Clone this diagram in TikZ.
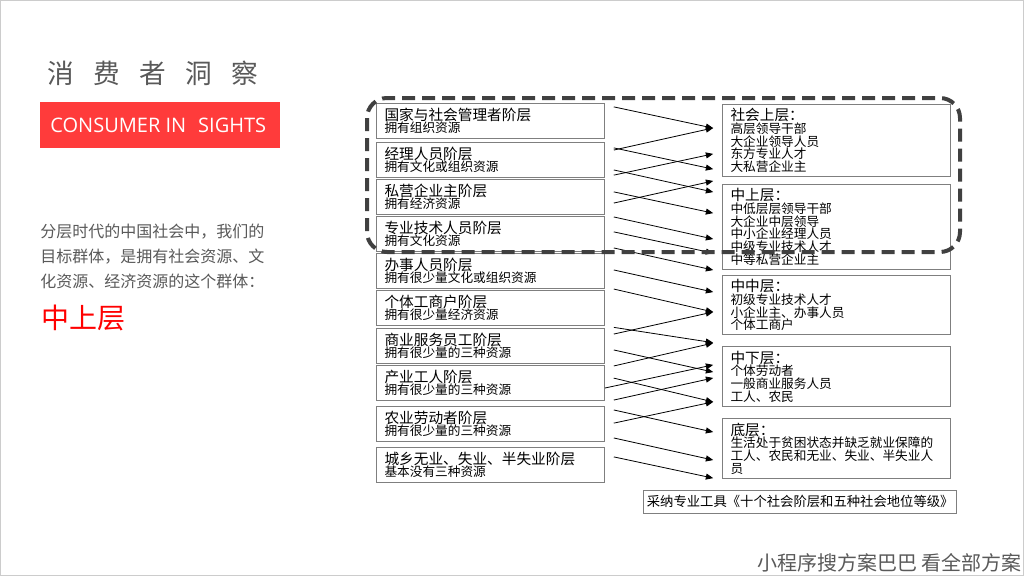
\documentclass[tikz,border=0pt]{standalone}
\usepackage{fontspec}
\setmainfont{Noto Sans CJK SC}
\newfontfamily\latinfont{Open Sans}
\usepackage{tikz}
\usetikzlibrary{arrows.meta, positioning}
\definecolor{headred}{HTML}{FF3B3B}
\definecolor{pickred}{HTML}{FF0000}
\definecolor{textgray}{HTML}{595959}
\definecolor{boxgray}{HTML}{7F7F7F}
\definecolor{dashgray}{HTML}{404040}
\setlength{\lineskiplimit}{-10pt}
\newcommand{\lvl}[1]{{\fontsize{11}{9.5}\selectfont #1}}

\begin{document}
\begin{tikzpicture}[
    x=0.75pt, y=-0.75pt,
    >={Triangle[length=5.5pt, width=4.5pt]},
    lbox/.style={draw=boxgray, line width=0.75pt, anchor=north west, minimum width=171pt, text width=159pt, inner xsep=6pt, inner ysep=2pt, minimum height=26pt, align=left, font=\fontsize{9.5}{9.5}\selectfont},
    rbox/.style={draw=boxgray, line width=0.75pt, anchor=north west, text width=159pt, inner xsep=6pt, inner ysep=3pt, align=left, font=\fontsize{9.5}{9.5}\selectfont},
    link/.style={->, line width=0.6pt, shorten <=6.75pt, shorten >=6.75pt},
    grp/.style={draw=dashgray, line width=3pt, dash pattern=on 9.75pt off 5.25pt, rounded corners=15pt},
]
    % Page
    \fill[white] (0,0) rectangle (1024,576);
    \useasboundingbox (0,0) rectangle (1024,576);
    \draw[black!20, line width=0.75pt] (0.5,0.5) rectangle (1023.5,575.5);

    % Heading
    \node[anchor=west, text=textgray, font=\fontsize{20}{20}\selectfont, inner sep=0pt] (title) at (47,73)
        {消\hspace{14.5pt}费\hspace{14.5pt}者\hspace{14.5pt}洞\hspace{14.5pt}察};
    \node[fill=headred, anchor=north west, minimum width=180pt, minimum height=34pt, inner sep=0pt,
          text=white, font=\latinfont\fontsize{15}{15}\selectfont] (tag) at (40,102)
        {\hspace{-3pt}CONSUMER IN\hspace{9pt}SIGHTS};
    \node[anchor=north west, text=textgray, align=left, inner sep=0pt, font=\fontsize{12}{18.75}\selectfont] (intro) at (40,224)
        {分层时代的中国社会中，我们的\\目标群体，是拥有社会资源、文\\化资源、经济资源的这个群体：};
    \node[anchor=west, text=pickred, inner sep=0pt, font=\fontsize{21}{21}\selectfont] (pick) at (41,318) {中上层};

    % Ten strata
    \node[lbox] (l1) at (376,103) {\lvl{国家与社会管理者阶层}\\拥有组织资源};
    \node[lbox] (l2) at (376,142) {\lvl{经理人员阶层}\\拥有文化或组织资源};
    \node[lbox] (l3) at (376,179) {\lvl{私营企业主阶层}\\拥有经济资源};
    \node[lbox] (l4) at (376,216) {\lvl{专业技术人员阶层}\\拥有文化资源};
    \node[lbox] (l5) at (376,253) {\lvl{办事人员阶层}\\拥有很少量文化或组织资源};
    \node[lbox] (l6) at (376,290) {\lvl{个体工商户阶层}\\拥有很少量经济资源};
    \node[lbox] (l7) at (376,328) {\lvl{商业服务员工阶层}\\拥有很少量的三种资源};
    \node[lbox] (l8) at (376,365) {\lvl{产业工人阶层}\\拥有很少量的三种资源};
    \node[lbox] (l9) at (376,406) {\lvl{农业劳动者阶层}\\拥有很少量的三种资源};
    \node[lbox] (l10) at (376,447) {\lvl{城乡无业、失业、半失业阶层}\\基本没有三种资源};

    % Five ranks
    \node[rbox, minimum height=54pt] (r1) at (722,104)
        {\lvl{社会上层：}\\高层领导干部\\大企业领导人员\\东方专业人才\\大私营企业主};
    \node[rbox, minimum height=63pt] (r2) at (722,184)
        {\lvl{中上层：}\\中低层层领导干部\\大企业中层领导\\中小企业经理人员\\中级专业技术人才\\中等私营企业主};
    \node[rbox, minimum height=44pt] (r3) at (722,275)
        {\lvl{中中层：}\\初级专业技术人才\\小企业主、办事人员\\个体工商户};
    \node[rbox, minimum height=45pt] (r4) at (722,346)
        {\lvl{中下层：}\\个体劳动者\\一般商业服务人员\\工人、农民};
    \node[rbox, minimum height=45pt] (r5) at (722,418)
        {\lvl{底层：}\\生活处于贫困状态并缺乏就业保障的\\工人、农民和无业、失业、半失业人\\员};

    % Source
    \node[draw=boxgray, line width=0.75pt, anchor=north west, minimum width=235pt, minimum height=17pt,
          inner sep=0pt, font=\fontsize{10}{10}\selectfont] (src) at (643,490)
        {采纳专业工具《十个社会阶层和五种社会地位等级》};

    % Strata to ranks
    \draw[link] (l1.east |- 0,105) -- (r1.west |- 0,130);
    \draw[link] (l2.east |- 0,152) -- (r1.west |- 0,126);
    \draw[link] (l2.east |- 0,146) -- (r1.west |- 0,171);
    \draw[link] (l2.east |- 0,177) -- (r1.west |- 0,152);
    \draw[link] (l2.east |- 0,168) -- (r2.west |- 0,194);
    \draw[link] (l3.east |- 0,190) -- (r2.west |- 0,215);
    \draw[link] (l3.east |- 0,205) -- (r2.west |- 0,179);
    \draw[link] (l4.east |- 0,215) -- (r2.west |- 0,241);
    \draw[link] (l4.east |- 0,230) -- (r2.west |- 0,255);
    \draw[link] (l4.east |- 0,246) -- (r2.west |- 0,272);
    \draw[link] (l5.east |- 0,268) -- (r3.west |- 0,294);
    \draw[link] (l5.east |- 0,287) -- (r3.west |- 0,314);
    \draw[link] (l7.east |- 0,336) -- (r3.west |- 0,310);
    \draw[link] (l7.east |- 0,326) -- (r4.west |- 0,344);
    \draw[link] (l8.east |- 0,368) -- (r4.west |- 0,341);
    \draw[link] (l7.east |- 0,348) -- (r4.west |- 0,374);
    \draw[link, shorten <=0pt] (l8.east |- 0,388) -- (r4.west |- 0,363);
    \draw[link] (l8.east |- 0,376) -- (r4.west |- 0,404);
    \draw[link] (l9.east |- 0,402) -- (r4.west |- 0,376);
    \draw[link] (l9.east |- 0,408) -- (r5.west |- 0,434);
    \draw[link] (l9.east |- 0,425) -- (r4.west |- 0,400);
    \draw[link] (l9.east |- 0,436) -- (r5.west |- 0,462);
    \draw[link] (l10.east |- 0,455) -- (r5.west |- 0,480);

    % Target group
    \draw[grp] (367,98) rectangle (960,252);

    % Footer
    \node[anchor=west, text=textgray, inner sep=0pt, font=\fontsize{15}{15}\selectfont] (foot) at (757,563)
        {小程序搜方案巴巴 看全部方案};
\end{tikzpicture}
\end{document}
